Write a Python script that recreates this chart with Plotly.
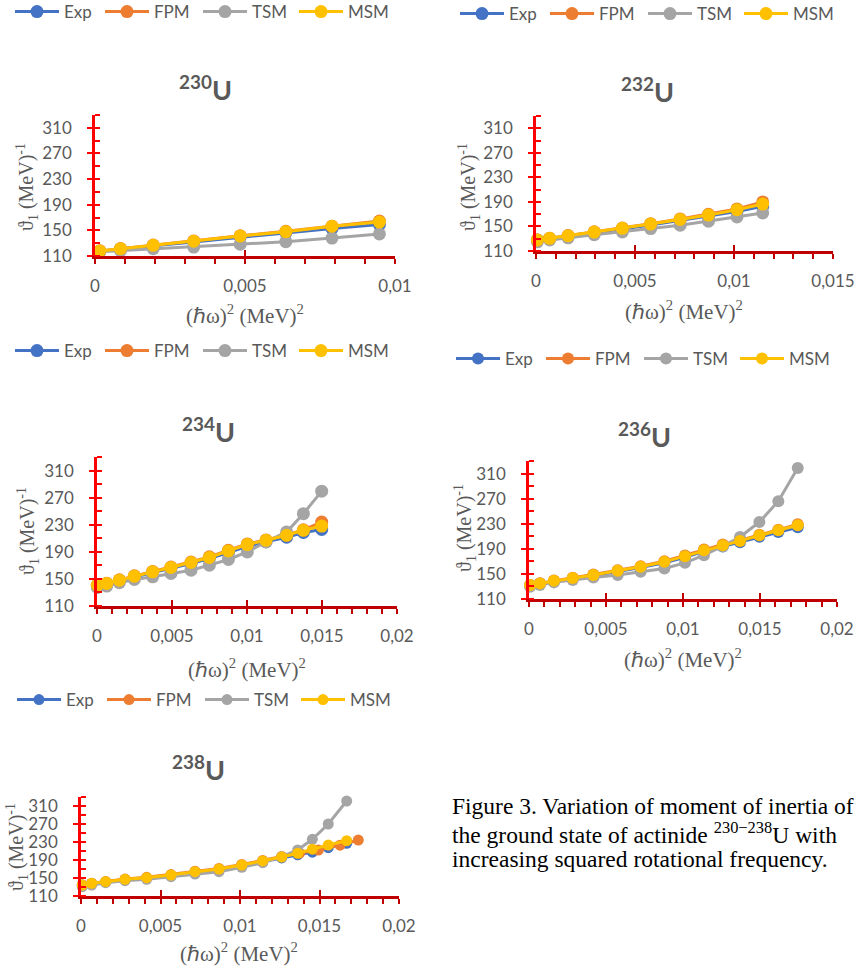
import plotly.graph_objects as go

W, H = 857, 968

# ---------------- data ----------------
series_names = ["Exp", "FPM", "TSM", "MSM"]
series_colors = ["#4472C4", "#ED7D31", "#A5A5A5", "#FFC000"]

# 230U
x230 = [0.00016, 0.00085, 0.00194, 0.00329, 0.00484, 0.00636, 0.00790, 0.00948]
exp230 = [117.5, 121.0, 126.0, 132.0, 139.5, 146.0, 153.0, 159.0]
fpm230 = [118.0, 121.6, 127.0, 133.5, 141.5, 148.5, 156.5, 164.5]
tsm230 = [116.7, 118.3, 121.4, 124.0, 128.3, 132.3, 138.0, 144.4]
msm230 = [117.8, 121.4, 126.7, 133.0, 141.3, 148.0, 156.4, 163.0]

# 232U
x232 = [0.00007, 0.00069, 0.00162, 0.00294, 0.00436, 0.00579, 0.00728, 0.00871, 0.01015, 0.01145]
exp232 = [127.8, 130.3, 134.3, 140.0, 145.8, 152.3, 159.6, 166.5, 174.5, 183.0]
fpm232 = [128.0, 130.8, 135.2, 141.3, 147.5, 154.5, 162.3, 169.8, 178.5, 190.0]
tsm232 = [125.0, 127.9, 131.5, 136.5, 141.0, 146.5, 152.0, 158.5, 165.5, 172.0]
msm232 = [127.9, 130.6, 134.9, 140.9, 146.9, 153.9, 161.5, 168.5, 177.2, 186.4]

# 234U
x234 = [0.00002, 0.00065, 0.00149, 0.00249, 0.00371, 0.00493, 0.00627, 0.00749,
        0.00876, 0.01002, 0.01127, 0.01264, 0.01376, 0.01498]
exp234 = [140.5, 143.0, 147.5, 153.0, 159.0, 165.5, 172.5, 180.0, 189.0, 198.0, 205.0, 211.5, 218.5, 223.0]
fpm234 = [141.0, 143.6, 148.6, 154.6, 161.0, 167.6, 175.0, 182.6, 192.3, 201.6, 207.6, 214.8, 222.5, 234.0]
tsm234 = [137.5, 139.4, 144.3, 149.2, 153.1, 158.1, 162.9, 170.3, 178.7, 189.9, 204.6, 219.3, 246.3, 279.6]
msm234 = [140.9, 143.4, 148.2, 154.1, 160.4, 166.9, 174.2, 181.6, 191.3, 200.7, 207.0, 214.4, 221.8, 228.0]

# 236U
x236 = [0.00007, 0.00071, 0.00162, 0.00284, 0.00418, 0.00576, 0.00725, 0.00879,
        0.01013, 0.01136, 0.01258, 0.01370, 0.01496, 0.01619, 0.01745]
exp236 = [132.0, 134.6, 138.5, 142.5, 147.2, 153.8, 160.0, 167.8, 176.6, 186.0, 193.5, 200.3, 209.2, 216.8, 224.5]
fpm236 = [132.5, 135.2, 139.5, 144.0, 149.0, 155.8, 162.3, 170.3, 179.5, 189.0, 197.0, 203.5, 212.5, 220.5, 229.0]
tsm236 = [129.5, 132.2, 136.5, 140.2, 144.4, 148.1, 153.3, 158.7, 167.6, 179.8, 194.1, 208.9, 232.7, 266.0, 319.0]
msm236 = [132.2, 134.9, 139.0, 143.3, 148.1, 154.9, 161.3, 169.2, 178.3, 187.8, 195.7, 202.5, 211.6, 219.5, 227.5]

# 238U
x238 = [0.00008, 0.00067, 0.00155, 0.00277, 0.00413, 0.00566, 0.00717, 0.00868,
        0.01011, 0.01143, 0.01262, 0.01363, 0.01455, 0.01555, 0.01671]
x238_fpm = [0.00008, 0.00067, 0.00155, 0.00277, 0.00413, 0.00566, 0.00717, 0.00868,
            0.01011, 0.01143, 0.01262, 0.01375, 0.01493, 0.01629, 0.01744]
exp238 = [134.2, 137.8, 141.3, 146.5, 150.0, 155.8, 163.0, 169.0, 177.5, 186.5, 194.5, 201.5, 207.5, 217.5, 227.0]
fpm238 = [134.6, 138.5, 142.3, 147.7, 151.5, 157.6, 165.0, 171.2, 180.0, 189.0, 198.0, 205.5, 212.0, 223.0, 234.4]
tsm238 = [130.7, 134.4, 139.6, 144.0, 147.1, 152.9, 158.9, 164.0, 173.7, 184.0, 197.4, 212.2, 236.0, 270.0, 321.0]
msm238 = [134.4, 138.2, 141.8, 147.1, 150.7, 156.7, 164.0, 170.0, 178.9, 188.0, 196.5, 205.0, 214.0, 223.3, 232.9]

isotopes = ["230", "232", "234", "236", "238"]
y_ticks = [110, 150, 190, 230, 270, 310]

caption_lines = [
    "Figure 3. Variation of moment of inertia of",
    "the ground state of actinide <sup>230−238</sup>U with",
    "increasing squared rotational frequency.",
]

# ---------------- layout helpers (page pixels -> paper fractions) ----------------
def fx(px):
    return px / W

def fy(py):
    return 1 - py / H

panels = [
    dict(x=x230, xf=x230, d=[exp230, fpm230, tsm230, msm230], box=(95, 395, 115, 256), xmax=0.01,
         leg=(18, 12), title=(205, 88), ytl=(27, 187), xtl=(245, 315), ms=13),
    dict(x=x232, xf=x232, d=[exp232, fpm232, tsm232, msm232], box=(536, 833, 116, 251), xmax=0.015,
         leg=(463, 14), title=(647, 90), ytl=(469, 187), xtl=(684, 310), ms=13),
    dict(x=x234, xf=x234, d=[exp234, fpm234, tsm234, msm234], box=(97, 397, 457, 606), xmax=0.02,
         leg=(18, 351), title=(208, 430), ytl=(28, 531), xtl=(247, 668), ms=13),
    dict(x=x236, xf=x236, d=[exp236, fpm236, tsm236, msm236], box=(529, 837, 461, 599), xmax=0.02,
         leg=(459, 359), title=(644, 435), ytl=(465, 528), xtl=(683, 658), ms=12),
    dict(x=x238, xf=x238_fpm, d=[exp238, fpm238, tsm238, msm238], box=(81, 399, 797, 896), xmax=0.02,
         leg=(20, 700), title=(198, 768), ytl=(17, 847), xtl=(239, 952), ms=11),
]

XR = "#C00000"
YR = "#FF0000"
GRAY = "#595959"
SANS = "Lato"
SERIF = "Liberation Serif"
legend_widths = [31, 39, 37, 36]

fig = go.Figure()
layout = dict(
    width=W, height=H, margin=dict(l=0, r=0, t=0, b=0, pad=0, autoexpand=False),
    paper_bgcolor="white", plot_bgcolor="white",
    separators=", ", showlegend=True,
)
annotations = []

for i, p in enumerate(panels, start=1):
    sfx = "" if i == 1 else str(i)
    xid, yid = f"x{sfx}", f"y{sfx}"
    ox, oy = i + 5, i + 5
    legid = f"legend{sfx}"
    l, r, t, b = p["box"]

    for k in range(4):
        xs = p["xf"] if k == 1 else p["x"]
        fig.add_trace(go.Scatter(
            x=xs, y=p["d"][k], mode="lines+markers", name=series_names[k],
            line=dict(color=series_colors[k], width=3),
            marker=dict(size=p["ms"], color=series_colors[k]),
            xaxis=xid, yaxis=yid, legend=legid, cliponaxis=False,
            legendwidth=legend_widths[k], hoverinfo="skip",
        ))
    # dummy trace for the overlay axes that draw the other half of the crossing ticks
    fig.add_trace(go.Scatter(x=[None], y=[None], xaxis=f"x{ox}", yaxis=f"y{oy}",
                             showlegend=False, hoverinfo="skip"))

    tickfont = dict(family=SANS, size=17, color=GRAY)
    layout[f"xaxis{sfx}"] = dict(
        domain=[fx(l), fx(r)], anchor=yid, range=[0, p["xmax"]], tick0=0, dtick=0.005,
        showline=True, linecolor=XR, linewidth=2.5, ticks="outside", ticklen=5, tickwidth=2,
        tickcolor=XR, minor=dict(tick0=0, dtick=0.001, ticks="outside", ticklen=5, tickwidth=2,
                                 tickcolor=XR, showgrid=False),
        showgrid=False, zeroline=False, tickfont=tickfont, ticklabelstandoff=8, fixedrange=True,
        automargin=False,
    )
    layout[f"yaxis{sfx}"] = dict(
        domain=[fy(b), fy(t)], anchor=xid, range=[110, 330], tickvals=y_ticks,
        showline=True, linecolor=YR, linewidth=2.5, ticks="outside", ticklen=5, tickwidth=2,
        tickcolor=YR, minor=dict(tick0=110, dtick=20, ticks="inside", ticklen=5, tickwidth=2,
                                 tickcolor=YR, showgrid=False),
        showgrid=False, zeroline=False, tickfont=tickfont, ticklabelstandoff=12, fixedrange=True,
        automargin=False,
    )
    layout[f"xaxis{ox}"] = dict(
        domain=[fx(l), fx(r)], overlaying=xid, anchor=yid, range=[0, p["xmax"]], tick0=0, dtick=0.005,
        showline=False, ticks="inside", ticklen=6, tickwidth=2, tickcolor=XR,
        showticklabels=False, showgrid=False, zeroline=False, fixedrange=True,
    )
    layout[f"yaxis{oy}"] = dict(
        domain=[fy(b), fy(t)], overlaying=yid, anchor=xid, range=[110, 330], tickvals=y_ticks,
        showline=False, ticks="inside", ticklen=5, tickwidth=2, tickcolor=YR,
        showticklabels=False, showgrid=False, zeroline=False, fixedrange=True,
    )

    lx, ly = p["leg"]
    layout[legid] = dict(
        orientation="h", x=fx(lx - 8), y=fy(ly), xanchor="left", yanchor="middle",
        font=dict(family=SANS, size=17, color=GRAY), bgcolor="rgba(0,0,0,0)",
        borderwidth=0, itemclick=False, itemdoubleclick=False, itemwidth=44,
    )

    tx, ty = p["title"]
    annotations.append(dict(
        text=f"<b><sup>{isotopes[i-1]}</sup>U</b>", x=fx(tx), y=fy(ty), xref="paper", yref="paper",
        xanchor="center", yanchor="middle", showarrow=False,
        font=dict(family=SANS, size=27, color=GRAY),
    ))
    yx, yy = p["ytl"]
    annotations.append(dict(
        text="ϑ<sub>1</sub> (MeV)<sup>-1</sup>", x=fx(yx), y=fy(yy), xref="paper", yref="paper",
        xanchor="center", yanchor="middle", showarrow=False, textangle=-90,
        font=dict(family=SERIF, size=20, color=GRAY),
    ))
    xx, xy = p["xtl"]
    annotations.append(dict(
        text="(ℏω)<sup>2</sup> (MeV)<sup>2</sup>", x=fx(xx), y=fy(xy), xref="paper", yref="paper",
        xanchor="center", yanchor="middle", showarrow=False,
        font=dict(family=SERIF, size=21, color=GRAY),
    ))

for j, line in enumerate(caption_lines):
    annotations.append(dict(
        text=line, x=fx(450), y=fy(806 + 26.5 * j), xref="paper", yref="paper",
        xanchor="left", yanchor="middle", align="left", showarrow=False,
        font=dict(family=SERIF, size=23.5, color="black"),
    ))

layout["annotations"] = annotations
fig.update_layout(**layout)
# remove the page's default 8px body margin so the figure sits at the window origin
fig.write_html("out.html", config={"displayModeBar": False},
               post_script="document.body.style.margin='0px';")
